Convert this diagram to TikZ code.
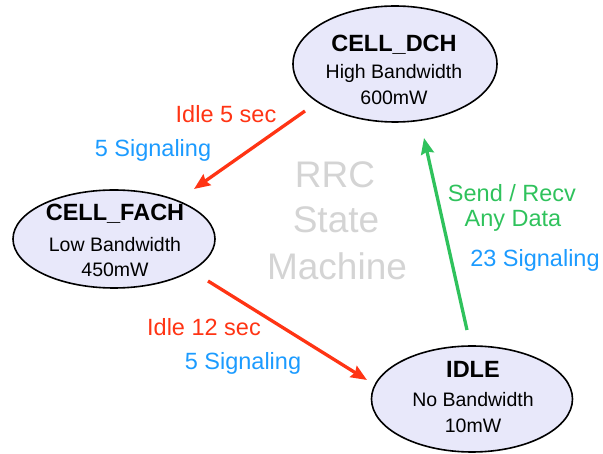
\documentclass[tikz,border=0pt]{standalone}
\usepackage{fontspec}
\setmainfont{Liberation Sans}
\usetikzlibrary{arrows.meta,shapes.geometric}

\definecolor{stateFill}{HTML}{E8E8FA}
\definecolor{idleRed}{HTML}{FF3414}
\definecolor{sigBlue}{HTML}{1C9BFF}
\definecolor{dataGreen}{HTML}{2FC25C}
\definecolor{bgGray}{HTML}{D4D4D4}

\tikzset{
  state/.style={ellipse, draw=black, line width=1.6pt, fill=stateFill, inner sep=0pt},
  title/.style={anchor=base, font=\fontsize{23.5}{26}\selectfont\bfseries},
  sub/.style={anchor=base, font=\fontsize{19.5}{22}\selectfont},
  lbl/.style={anchor=base, font=\fontsize{23.5}{26}\selectfont},
  bigtxt/.style={anchor=base, text=bgGray, font=\fontsize{37}{40}\selectfont},
  trans/.style={line width=3.3pt, -{Stealth[length=16pt, width=13pt, inset=2pt]}},
}

\begin{document}
\begin{tikzpicture}[x=1pt, y=-1pt]
  \useasboundingbox (0,0) rectangle (603,454);

  % states
  \node[state, minimum width=204pt, minimum height=116pt] (dch) at (395,64) {};
  \node[state, minimum width=202pt, minimum height=98pt] (fach) at (114,239) {};
  \node[state, minimum width=201pt, minimum height=106pt] (idle) at (472,399) {};

  \node[title] (dchT) at (394,52) {CELL\_DCH};
  \node[sub] (dchB) at (394,79) {High Bandwidth};
  \node[sub] (dchP) at (394,105) {600mW};

  \node[title] (fachT) at (115,221) {CELL\_FACH};
  \node[sub] (fachB) at (115,252) {Low Bandwidth};
  \node[sub] (fachP) at (115,277) {450mW};

  \node[title] (idleT) at (473,378) {IDLE};
  \node[sub] (idleB) at (473,407) {No Bandwidth};
  \node[sub] (idleP) at (473,433) {10mW};

  % centre caption
  \node[bigtxt] (rrc) at (335,188) {RRC};
  \node[bigtxt] (state) at (336,233) {State};
  \node[bigtxt] (machine) at (337,280) {Machine};

  % transition end points
  \coordinate (dchOut) at (305,111);
  \coordinate (fachIn) at (194,189);
  \coordinate (fachOut) at (208,281);
  \coordinate (idleIn) at (367,380);
  \coordinate (idleOut) at (467,330);
  \coordinate (dchIn) at (424,138);

  \draw[trans, idleRed] (dchOut) -- (fachIn);
  \draw[trans, idleRed] (fachOut) -- (idleIn);
  \draw[trans, dataGreen] (idleOut) -- (dchIn);

  % transition labels
  \node[lbl, text=idleRed] (t1a) at (226,123) {Idle 5 sec};
  \node[lbl, text=sigBlue] (t1b) at (153,157) {5 Signaling};

  \node[lbl, text=idleRed] (t2a) at (204,336) {Idle 12 sec};
  \node[lbl, text=sigBlue] (t2b) at (243,370) {5 Signaling};

  \node[lbl, text=dataGreen] (t3a) at (512,202) {Send / Recv};
  \node[lbl, text=dataGreen] (t3b) at (513,227) {Any Data};
  \node[lbl, text=sigBlue] (t3c) at (535,267) {23 Signaling};
\end{tikzpicture}
\end{document}
